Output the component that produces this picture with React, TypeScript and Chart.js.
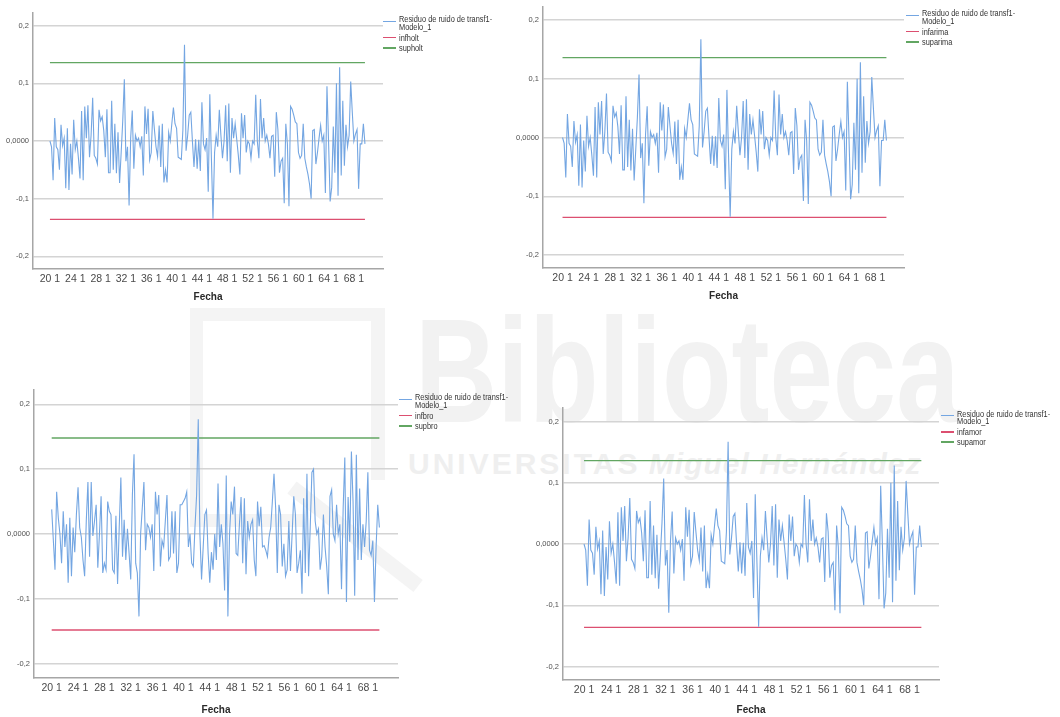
import React, { useEffect, useRef } from "react";
import { Chart, registerables } from "chart.js";

Chart.register(...registerables);

// Fecha tick labels (week, day) shown every four weeks
const fechaTicks = ["20 1", "24 1", "28 1", "32 1", "36 1", "40 1", "44 1", "48 1", "52 1", "56 1", "60 1", "64 1", "68 1"];
const primeraSemana = 20;
const diasPorSemana = 4;

// Value axis ticks
const yTicks = [-0.2, -0.1, 0, 0.1, 0.2];

// Noise residual of transf1 (Holt, ARIMA and damped-trend models)
const residuoTransf1 = [
  0.000, -0.010, -0.068, 0.040, -0.010, -0.015, -0.050, 0.028, -0.008, 0.005,
  -0.082, 0.022, -0.085, -0.005, -0.058, 0.037, -0.015, 0.000, -0.030, -0.065,
  0.052, -0.068, 0.060, 0.005, 0.062, -0.028, 0.010, 0.075, -0.025, -0.030,
  -0.040, 0.054, 0.035, 0.042, 0.018, -0.028, 0.055, -0.055, -0.055, 0.070,
  -0.050, 0.030, -0.056, 0.015, -0.073, -0.020, 0.035, 0.107, -0.035, -0.010,
  -0.112, 0.005, 0.053, -0.048, 0.010, 0.000, 0.005, -0.010, 0.008, -0.060,
  0.060, 0.012, 0.056, -0.033, -0.020, 0.052, 0.020, -0.010, -0.027, 0.027,
  -0.045, 0.030, -0.072, -0.050, -0.072, 0.015, 0.000, 0.030, 0.058, 0.030,
  0.022, -0.028, -0.030, -0.032, 0.020, 0.167, -0.017, 0.010, 0.045, 0.050,
  0.000, -0.045, 0.003, -0.048, 0.002, -0.052, 0.067, -0.005, -0.015, 0.005,
  -0.088, 0.081, -0.030, -0.135, -0.020, 0.010, -0.010, 0.054, 0.010, -0.030,
  0.000, 0.062, -0.035, 0.065, -0.055, 0.040, 0.005, 0.030, 0.003, -0.025,
  -0.058, 0.048, 0.005, 0.045, -0.020, 0.000, -0.005, -0.030, 0.000, -0.005,
  0.080, 0.000, -0.030, 0.073, 0.005, 0.040, 0.000, 0.010, -0.005, -0.030,
  0.008, 0.010, -0.062, 0.050, 0.020, -0.055, -0.035, -0.030, -0.108, 0.030,
  -0.005, -0.113, 0.060, 0.055, 0.045, 0.033, 0.030, -0.020, -0.030, -0.025,
  0.030, -0.030, -0.045, -0.058, -0.075, -0.100, 0.018, 0.020, -0.040, -0.020,
  0.005, 0.027, 0.000, 0.010, -0.090, 0.095, 0.000, -0.105, -0.080, 0.025,
  -0.055, 0.100, -0.095, 0.128, -0.060, 0.070, -0.043, 0.028, -0.010, 0.010,
  0.103, 0.050, 0.000, 0.012, 0.020, -0.083, -0.005, -0.005, 0.030, -0.005,
];

// Noise residual of transf1 (Brown model)
const residuoTransf1Brown = [
  0.038, -0.010, -0.055, 0.065, 0.025, 0.000, -0.045, 0.035, -0.020, 0.015,
  -0.075, 0.025, -0.065, 0.010, -0.028, 0.030, 0.072, 0.010, -0.005, -0.040,
  -0.065, 0.020, 0.080, -0.035, 0.080, -0.003, 0.020, 0.045, -0.052, 0.000,
  0.058, -0.060, -0.045, -0.055, 0.050, 0.035, 0.030, -0.055, -0.060, 0.028,
  -0.077, 0.010, 0.087, -0.035, 0.022, -0.040, 0.008, -0.030, -0.070, 0.060,
  0.123, -0.045, -0.060, -0.127, 0.000, 0.040, 0.080, -0.025, 0.015, 0.010,
  -0.005, 0.015, -0.057, 0.065, 0.030, 0.060, -0.050, -0.010, -0.020, 0.020,
  0.060, -0.040, -0.035, 0.035, -0.030, 0.035, -0.060, -0.045, 0.045, 0.045,
  0.050, 0.055, 0.065, -0.020, 0.000, -0.045, -0.050, 0.010, 0.060, 0.177,
  0.000, -0.070, -0.020, 0.030, 0.037, -0.030, -0.075, -0.028, -0.055, 0.000,
  -0.040, 0.078, -0.020, 0.015, -0.015, -0.087, 0.090, -0.127, 0.000, 0.050,
  0.030, 0.073, -0.030, -0.033, 0.015, 0.057, -0.045, 0.055, -0.062, 0.020,
  -0.005, 0.015, 0.022, -0.040, -0.065, 0.050, 0.012, 0.042, -0.020, -0.018,
  -0.025, -0.035, -0.005, 0.010, 0.050, 0.093, 0.040, -0.060, 0.045, 0.030,
  -0.050, -0.015, -0.065, -0.055, 0.020, -0.057, 0.000, 0.058, 0.030, -0.060,
  -0.045, -0.025, -0.092, 0.055, -0.060, 0.093, -0.065, 0.010, 0.095, 0.100,
  0.020, 0.000, 0.008, -0.055, -0.035, 0.030, -0.020, -0.050, -0.093, 0.058,
  0.068, 0.000, -0.010, 0.045, 0.000, 0.015, -0.085, 0.040, 0.118, -0.105,
  0.057, -0.012, 0.127, 0.050, -0.095, 0.122, -0.040, 0.070, -0.040, 0.015,
  -0.020, 0.020, 0.095, -0.025, -0.033, -0.010, -0.105, -0.020, 0.045, 0.010,
];

// Control limits (inferior = -limit, superior = +limit)
const limiteHolt = 0.136;
const limiteArima = 0.136;
const limiteBrown = 0.148;
const limiteAmortiguado = 0.136;

const SERIE_LABEL = ["Residuo de ruido de transf1-", "Modelo_1"];

const FONT = "'Liberation Sans', Arial, Helvetica, sans-serif";
const BLUE = "#74a6e2";
const RED = "#dc4f70";
const GREEN = "#62a662";
const GRID = "#d4d4d4";
const AXIS = "#a6a6a6";

const AXIS_W = 40;
const X_AXIS_H = 40;
const PAD_T = 10;
const PAD_R = 20;

type PanelSpec = {
  residuo: number[];
  limite: number;
  infName: string;
  supName: string;
  box: { left: number; top: number; right: number; bottom: number };
  lead: number;
  trail: number;
  titleGap: number;
  legend: { x: number; y: number };
};

const panels: PanelSpec[] = [
  {
    residuo: residuoTransf1, limite: limiteHolt, infName: "infholt", supName: "supholt",
    box: { left: 33, top: 13, right: 383, bottom: 269 }, lead: 10.7, trail: 11.4, titleGap: 5.3,
    legend: { x: 399, y: 19.3 },
  },
  {
    residuo: residuoTransf1, limite: limiteArima, infName: "infarima", supName: "suparima",
    box: { left: 543, top: 7, right: 904, bottom: 268 }, lead: 12, trail: 10.8, titleGap: 5.3,
    legend: { x: 922, y: 13.3 },
  },
  {
    residuo: residuoTransf1Brown, limite: limiteBrown, infName: "infbro", supName: "supbro",
    box: { left: 34, top: 390, right: 398, bottom: 678 }, lead: 10.75, trail: 11.3, titleGap: 2,
    legend: { x: 415, y: 397.3 },
  },
  {
    residuo: residuoTransf1, limite: limiteAmortiguado, infName: "infamor", supName: "supamor",
    box: { left: 563, top: 408, right: 939, bottom: 680 }, lead: 12.4, trail: 10.4, titleGap: 4,
    legend: { x: 957, y: 413.7 },
  },
];

// index of a "week day" label within the series
function indiceFecha(label: string): number {
  const [semana, dia] = label.split(" ").map(Number);
  return (semana - primeraSemana) * diasPorSemana + (dia - 1);
}

function formatoValor(v: number): string {
  if (Math.abs(v) < 1e-9) return "0,0000";
  return v.toFixed(1).replace(".", ",");
}

function ResidualPanel({ p }: { p: PanelSpec }) {
  const ref = useRef<HTMLCanvasElement>(null);
  const width = p.box.right - p.box.left + AXIS_W + PAD_R;
  const height = p.box.bottom - p.box.top + PAD_T + X_AXIS_H;

  useEffect(() => {
    const n = p.residuo.length;
    const tickMap = new Map<number, string>();
    fechaTicks.forEach((l) => tickMap.set(indiceFecha(l), l));

    const chart = new Chart(ref.current as HTMLCanvasElement, {
      type: "line",
      data: {
        datasets: [
          {
            label: SERIE_LABEL.join(""),
            data: p.residuo.map((v, i) => ({ x: i, y: v })),
            borderColor: BLUE,
            borderWidth: 1.1,
            pointRadius: 0,
            tension: 0,
          },
          {
            label: p.infName,
            data: [{ x: 0, y: -p.limite }, { x: n - 1, y: -p.limite }],
            borderColor: RED,
            borderWidth: 1.3,
            pointRadius: 0,
          },
          {
            label: p.supName,
            data: [{ x: 0, y: p.limite }, { x: n - 1, y: p.limite }],
            borderColor: GREEN,
            borderWidth: 1.3,
            pointRadius: 0,
          },
        ],
      },
      options: {
        responsive: false,
        maintainAspectRatio: false,
        animation: false,
        layout: { padding: { top: PAD_T, right: PAD_R, left: 0, bottom: 0 } },
        plugins: { legend: { display: false }, tooltip: { enabled: false } },
        scales: {
          x: {
            type: "linear",
            min: -p.lead,
            max: n - 1 + p.trail,
            grid: { display: false, drawTicks: false },
            border: { display: true, color: AXIS, width: 1.5 },
            afterBuildTicks: (s: any) => {
              s.ticks = fechaTicks.map((l) => ({ value: indiceFecha(l) }));
            },
            ticks: {
              autoSkip: false,
              maxRotation: 0,
              padding: 4,
              color: "#4a4a4a",
              font: { family: FONT, size: 10.5 },
              callback: (v: any) => tickMap.get(Math.round(Number(v))) ?? "",
            },
            title: {
              display: true,
              text: "Fecha",
              color: "#2a2a2a",
              font: { family: FONT, size: 10, weight: "bold" },
              padding: { top: 0, bottom: p.titleGap },
            },
            afterFit: (s: any) => {
              s.height = X_AXIS_H;
            },
          },
          y: {
            type: "linear",
            min: -0.222,
            max: 0.222,
            afterBuildTicks: (s: any) => {
              s.ticks = yTicks.map((v) => ({ value: v }));
            },
            grid: { color: GRID, lineWidth: 1.5, drawTicks: false },
            border: { display: true, color: AXIS, width: 1.5 },
            ticks: {
              padding: 4,
              color: "#505050",
              font: { family: FONT, size: 7.5 },
              callback: (v: any) => formatoValor(Number(v)),
            },
            afterFit: (s: any) => {
              s.width = AXIS_W;
            },
          },
        },
      },
    } as any);
    return () => chart.destroy();
  }, []);

  return (
    <canvas
      ref={ref}
      width={width}
      height={height}
      style={{
        position: "absolute",
        left: p.box.left - AXIS_W,
        top: p.box.top - PAD_T,
        width,
        height,
      }}
    />
  );
}

function Legend({ p }: { p: PanelSpec }) {
  const rows = [
    { color: BLUE, lines: SERIE_LABEL, offset: 0 },
    { color: RED, lines: [p.infName], offset: 18.3 },
    { color: GREEN, lines: [p.supName], offset: 28.5 },
  ];
  const out: React.ReactNode[] = [];
  rows.forEach((r, ri) => {
    const swatchY = r.lines.length > 1 ? r.offset + 2 : r.offset;
    out.push(
      <div
        key={"s" + ri}
        style={{
          position: "absolute",
          left: p.legend.x - 16,
          top: p.legend.y + swatchY - 0.75,
          width: 13,
          height: 1.5,
          background: r.color,
        }}
      />
    );
    r.lines.forEach((t, li) => {
      out.push(
        <div
          key={"t" + ri + "-" + li}
          style={{
            position: "absolute",
            left: p.legend.x,
            top: p.legend.y + r.offset + li * 7.4 - 5,
            height: 10,
            lineHeight: "10px",
            fontSize: 9,
            fontFamily: FONT,
            color: "#333",
            whiteSpace: "nowrap",
            transform: "scaleX(0.82)",
            transformOrigin: "left center",
          }}
        >
          {t}
        </div>
      );
    });
  });
  return <>{out}</>;
}

// Library watermark drawn behind the four panels
function Marca() {
  const band = "#f4f4f4";
  return (
    <>
      <div style={{ position: "absolute", left: 190, top: 308, width: 195, height: 13, background: band }} />
      <div style={{ position: "absolute", left: 190, top: 308, width: 13, height: 219, background: band }} />
      <div style={{ position: "absolute", left: 371, top: 308, width: 14, height: 172, background: band }} />
      <div style={{ position: "absolute", left: 190, top: 514, width: 115, height: 13, background: band }} />
      <div
        style={{
          position: "absolute",
          left: 292,
          top: 480,
          width: 160,
          height: 15,
          background: band,
          transform: "rotate(38deg)",
          transformOrigin: "left center",
        }}
      />
      <div
        style={{
          position: "absolute",
          left: 415,
          top: 297,
          fontFamily: FONT,
          fontWeight: 700,
          fontSize: 148,
          lineHeight: "148px",
          color: "#f2f2f2",
          whiteSpace: "nowrap",
          transform: "scaleX(0.77)",
          transformOrigin: "left top",
        }}
      >
        Biblioteca
      </div>
      <div
        style={{
          position: "absolute",
          left: 408,
          top: 447,
          fontFamily: FONT,
          fontWeight: 700,
          fontSize: 30,
          lineHeight: "34px",
          color: "#efefef",
          whiteSpace: "nowrap",
        }}
      >
        <span style={{ letterSpacing: 3 }}>UNIVERSITAS</span>{" "}
        <span style={{ fontStyle: "italic", letterSpacing: 1 }}>Miguel Hernández</span>
      </div>
    </>
  );
}

export default function App() {
  return (
    <div
      style={{
        position: "fixed",
        left: 0,
        top: 0,
        width: 1060,
        height: 717,
        overflow: "hidden",
        background: "#ffffff",
      }}
    >
      <Marca />
      {panels.map((p, i) => (
        <ResidualPanel key={i} p={p} />
      ))}
      {panels.map((p, i) => (
        <Legend key={"l" + i} p={p} />
      ))}
    </div>
  );
}
